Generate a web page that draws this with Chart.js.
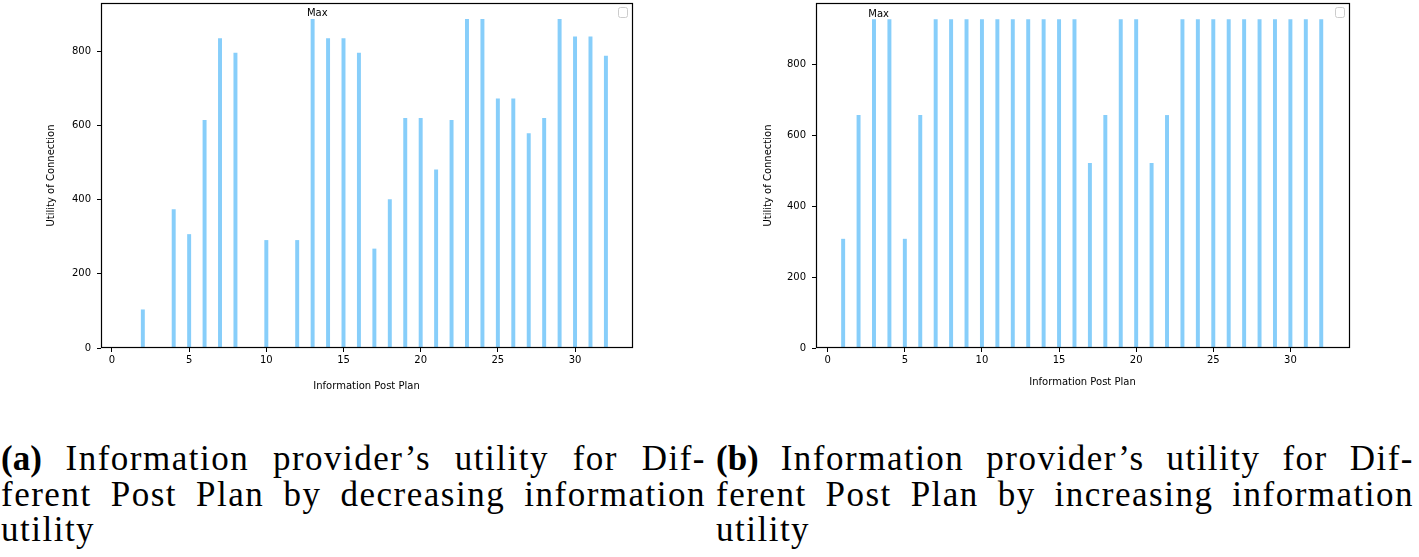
<!DOCTYPE html>
<html>
<head>
<meta charset="utf-8">
<script src="https://cdn.jsdelivr.net/npm/chart.js@4/dist/chart.umd.min.js"></script>
<style>
html,body{margin:0;padding:0;background:#fff;width:1419px;height:557px;overflow:hidden;position:relative}
canvas{position:absolute;top:0}
#c1{left:0}
#c2{left:710px}
.cap{position:absolute;top:441px;font-family:"Liberation Serif","Times New Roman",serif;font-size:35px;line-height:35.5px;color:#000;letter-spacing:1.5px}
.cap .j{text-align:justify;text-align-last:justify}
.cap b{letter-spacing:0}
#capA{left:1px;width:705px}
#capB{left:716px;width:698px}
</style>
</head>
<body>
<canvas id="c1" width="700" height="400"></canvas>
<canvas id="c2" width="709" height="400"></canvas>
<div class="cap" id="capA">
  <div class="j"><b>(a)</b> Information provider’s utility for Dif-</div>
  <div class="j">ferent Post Plan by decreasing information</div>
  <div>utility</div>
</div>
<div class="cap" id="capB">
  <div class="j"><b>(b)</b> Information provider’s utility for Dif-</div>
  <div class="j">ferent Post Plan by increasing information</div>
  <div>utility</div>
</div>
<script>
// ---- data ----
const postPlans = [0,1,2,3,4,5,6,7,8,9,10,11,12,13,14,15,16,17,18,19,20,21,22,23,24,25,26,27,28,29,30,31,32];
const utilityDecreasing = [0,0,103,0,373,306,614,834,795,0,290,0,290,886,834,834,795,267,400,619,619,480,614,886,886,672,672,578,619,886,839,839,787];
const utilityIncreasing = [0,307,656,926,926,307,656,926,926,926,926,926,926,926,926,926,926,521,656,926,926,521,656,926,926,926,926,926,926,926,926,926,926];
const xTickValues = [0,5,10,15,20,25,30];
const yTickValues = [0,200,400,600,800];
const xTitle = 'Information Post Plan';
const yTitle = 'Utility of Connection';
const maxLabel = 'Max';

const FONT = '"DejaVu Sans", sans-serif';

const framePlugin = {
  id: 'frame',
  afterDraw(chart) {
    const {ctx, chartArea: a, scales} = chart;
    ctx.save();
    ctx.strokeStyle = '#000';
    ctx.lineWidth = 1.2;
    ctx.strokeRect(Math.round(a.left) + 0.5, Math.round(a.top) + 0.5,
                   Math.round(a.right - a.left), Math.round(a.bottom - a.top) - 1);
    const bx = a.right - 14, by = a.top + 4;
    ctx.beginPath();
    if (ctx.roundRect) ctx.roundRect(bx + 0.5, by + 0.5, 9, 10, 2); else ctx.rect(bx + 0.5, by + 0.5, 9, 10);
    ctx.fillStyle = '#fff';
    ctx.fill();
    ctx.strokeStyle = '#cccccc';
    ctx.lineWidth = 1;
    ctx.stroke();
    const pts = chart.data.datasets[0].data;
    let mi = 0;
    pts.forEach((p, i) => { if (p.y > pts[mi].y) mi = i; });
    const px = scales.x.getPixelForValue(pts[mi].x + 0.3);
    const py = scales.y.getPixelForValue(pts[mi].y) - 3;
    ctx.fillStyle = '#000';
    ctx.font = '10px ' + FONT;
    ctx.textAlign = 'center';
    ctx.textBaseline = 'alphabetic';
    ctx.fillText(maxLabel, px, py);
    ctx.restore();
  }
};

function makeChart(id, values, cfg) {
  const data = postPlans.map((x, i) => ({x: x, y: values[i]}));
  return new Chart(document.getElementById(id), {
    type: 'bar',
    data: {
      datasets: [{
        data: data,
        backgroundColor: '#87CEFA',
        borderWidth: 0,
        barThickness: 3.3
      }]
    },
    options: {
      responsive: false,
      animation: false,
      events: [],
      layout: {padding: {left: 0, top: 3, right: cfg.padRight, bottom: 0}},
      plugins: {legend: {display: false}, tooltip: {enabled: false}},
      scales: {
        x: {
          type: 'linear',
          min: cfg.xmin, max: cfg.xmax,
          offset: false,
          afterFit: s => { s.height = 52; s.paddingLeft = 0; s.paddingRight = 0; s.paddingTop = 0; s.paddingBottom = 0; },
          afterBuildTicks: s => { s.ticks = xTickValues.map(v => ({value: v})); },
          ticks: {color: '#000', font: {family: FONT, size: 10}, padding: 2, maxRotation: 0, autoSkip: false},
          grid: {display: true, drawOnChartArea: false, drawTicks: true, tickLength: 4, tickColor: '#000', color: '#000', offset: false},
          border: {display: false},
          title: {display: true, text: xTitle, color: '#000', font: {family: FONT, size: 10}, padding: {top: 0, bottom: cfg.xTitlePad}}
        },
        y: {
          type: 'linear',
          min: 0, max: cfg.ymax,
          afterFit: s => { s.width = cfg.yAxisW; s.paddingTop = 0; s.paddingBottom = 0; s.paddingLeft = 0; s.paddingRight = 0; },
          afterBuildTicks: s => { s.ticks = yTickValues.map(v => ({value: v})); },
          ticks: {color: '#000', font: {family: FONT, size: 10}, padding: 6},
          grid: {display: true, drawOnChartArea: false, drawTicks: true, tickLength: 4, tickColor: '#000', color: '#000'},
          border: {display: false},
          title: {display: true, text: yTitle, color: '#000', font: {family: FONT, size: 10}, padding: {top: cfg.yTitlePad, bottom: 0}}
        }
      }
    },
    plugins: [framePlugin]
  });
}

makeChart('c1', utilityDecreasing, {xmin: -0.71, xmax: 33.69, ymax: 930, yAxisW: 101, padRight: 68, yTitlePad: 45, xTitlePad: 8});
makeChart('c2', utilityIncreasing, {xmin: -0.76, xmax: 33.8, ymax: 973, yAxisW: 106, padRight: 70, yTitlePad: 52, xTitlePad: 12});
</script>
</body>
</html>
